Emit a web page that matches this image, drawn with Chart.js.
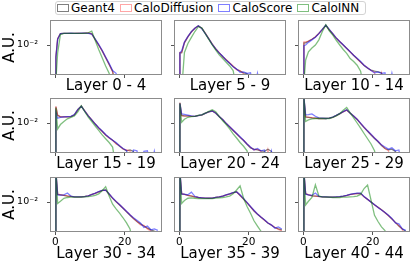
<!DOCTYPE html>
<html>
<head>
<meta charset="utf-8">
<script src="https://cdn.jsdelivr.net/npm/chart.js@4.4.1/dist/chart.umd.min.js"></script>
<style>
  html, body { margin: 0; padding: 0; background: #fff; }
  body { width: 415px; height: 266px; position: relative; overflow: hidden; font-family: 'DejaVu Sans', sans-serif; }
  canvas { position: absolute; }
  #legend { position: absolute; left: 55px; top: 1px; width: 308px; height: 12px; border: 1px solid #d3d3d3; border-radius: 3px;
            display: flex; align-items: center; padding-left: 1px; font-size: 12px; color: #000; }
  #legend .item { display: flex; align-items: center; margin-right: 5px; }
  #legend .box { width: 10px; height: 6px; border: 1px solid; margin-right: 2px; }
</style>
</head>
<body>
<div id="legend"></div>
<script>
// bin edges shared by all histograms (first bin is the narrow one at 0)
const binEdges = [0, 0.4, 1, 2, 3, 4, 5, 6, 7, 8, 9, 10, 11, 12, 13, 14, 15, 16, 17, 18, 19,
                  20, 21, 22, 23, 24, 25, 26, 27, 28, 29, 30];
const seriesNames = ['Geant4', 'CaloDiffusion', 'CaloScore', 'CaloINN'];
const layerTitles = ['Layer 0 - 4', 'Layer 5 - 9', 'Layer 10 - 14',
                     'Layer 15 - 19', 'Layer 20 - 24', 'Layer 25 - 29',
                     'Layer 30 - 34', 'Layer 35 - 39', 'Layer 40 - 44'];
const xTicks = [0, 20];
const yTicks = [0.01];
const yTickLabels = ['10⁻²'];

// Layer 0 - 4
const geant4_0_4 = [0.0016, 0.025, 0.058, 0.060, 0.060, 0.060, 0.060, 0.060, 0.060, 0.061, 0.061,
  0.056, 0.024, 0.010, 0.0040, 0.0014, 0.0005, 0.00018, 0, 0, 0,
  0, 0, 0, 0, 0, 0, 0, 0, 0, 0];
const caloDiffusion_0_4 = [0.0018, 0.026, 0.058, 0.060, 0.059, 0.060, 0.060, 0.061, 0.060, 0.062, 0.063,
  0.055, 0.023, 0.0098, 0.0042, 0.0015, 0.00052, 0.00016, 0, 0, 0,
  0, 0, 0, 0, 0, 0, 0, 0, 0, 0];
const caloScore_0_4 = [0.0015, 0.024, 0.057, 0.060, 0.060, 0.061, 0.060, 0.060, 0.061, 0.061, 0.060,
  0.054, 0.025, 0.011, 0.0045, 0.0016, 0.0006, 0.0002, 0.00013, 0, 0,
  0, 0, 0, 0, 0, 0, 0, 0, 0, 0];
const caloINN_0_4 = [0, 0.003, 0.050, 0.060, 0.060, 0.060, 0.060, 0.060, 0.060, 0.060, 0.065,
  0.085, 0.020, 0.005, 0.0014, 0.0004, 0.00013, 0, 0, 0, 0,
  0, 0, 0, 0, 0, 0, 0, 0, 0, 0];

// Layer 5 - 9
const geant4_5_9 = [0.003, 0.003, 0.014, 0.035, 0.076, 0.13, 0.19, 0.126, 0.060, 0.026, 0.011,
  0.0054, 0.003, 0.0017, 0.001, 0.0006, 0.00037, 0.00024, 0.00018, 0.00014, 0.000126,
  0, 0, 0, 0, 0, 0, 0, 0, 0, 0];
const caloDiffusion_5_9 = [0.0032, 0.0032, 0.015, 0.036, 0.074, 0.13, 0.185, 0.13, 0.062, 0.027, 0.012,
  0.0056, 0.0031, 0.0016, 0.0011, 0.00065, 0.0004, 0.00022, 0.0002, 0.00012, 0,
  0, 0, 0, 0, 0, 0, 0, 0, 0, 0];
const caloScore_5_9 = [0.003, 0.004, 0.016, 0.038, 0.078, 0.13, 0.19, 0.125, 0.058, 0.026, 0.011,
  0.0055, 0.0029, 0.0018, 0.00095, 0.0006, 0.00035, 0.00025, 0.00015, 0.00016, 0.00013,
  0.00014, 0, 0.00013, 0, 0, 0, 0, 0, 0, 0];
const caloINN_5_9 = [0, 0, 0.0032, 0.0126, 0.032, 0.079, 0.166, 0.14, 0.056, 0.024, 0.010,
  0.0045, 0.0022, 0.00126, 0.0007, 0.0004, 0.0002, 0, 0, 0, 0,
  0, 0, 0, 0, 0, 0, 0, 0, 0, 0];

// Layer 10 - 14
const geant4_10_14 = [0.014, 0.014, 0.0178, 0.024, 0.034, 0.060, 0.11, 0.21, 0.10, 0.054, 0.028,
  0.0166, 0.010, 0.0058, 0.0035, 0.002, 0.0012, 0.00074, 0.00043, 0.00028, 0.00021,
  0.00018, 0.00016, 0.00014, 0, 0, 0, 0, 0, 0, 0];
const caloDiffusion_10_14 = [0.016, 0.016, 0.018, 0.024, 0.035, 0.058, 0.105, 0.20, 0.105, 0.056, 0.029,
  0.017, 0.0098, 0.006, 0.0034, 0.0021, 0.0012, 0.0007, 0.00045, 0.0003, 0.0002,
  0.00015, 0, 0.00013, 0, 0, 0, 0, 0, 0, 0];
const caloScore_10_14 = [0.009, 0.010, 0.015, 0.022, 0.033, 0.057, 0.11, 0.21, 0.11, 0.057, 0.030,
  0.017, 0.0105, 0.006, 0.0036, 0.0021, 0.0013, 0.0008, 0.00045, 0.0003, 0.0002,
  0.00014, 0.00016, 0.00013, 0.00014, 0, 0.00013, 0, 0, 0, 0];
const caloINN_10_14 = [0, 0.001, 0.0035, 0.0063, 0.010, 0.022, 0.079, 0.22, 0.089, 0.045, 0.020,
  0.010, 0.005, 0.0028, 0.00126, 0.00079, 0.00045, 0.00018, 0, 0, 0,
  0, 0, 0, 0, 0, 0, 0, 0, 0, 0];

// Layer 15 - 19
const geant4_15_19 = [0.12, 0.032, 0.026, 0.026, 0.026, 0.027, 0.035, 0.079, 0.135, 0.063, 0.030,
  0.016, 0.0085, 0.0047, 0.0028, 0.0016, 0.00105, 0.0007, 0.00045, 0.00028, 0.00019,
  0.00014, 0.00016, 0.000126, 0, 0, 0, 0, 0, 0, 0];
const caloDiffusion_15_19 = [0.13, 0.033, 0.027, 0.026, 0.026, 0.027, 0.034, 0.075, 0.13, 0.065, 0.031,
  0.016, 0.0088, 0.0046, 0.0027, 0.0016, 0.001, 0.0007, 0.0004, 0.00032, 0.00018,
  0.00016, 0.00014, 0, 0, 0, 0, 0, 0, 0, 0];
const caloScore_15_19 = [0.05, 0.021, 0.024, 0.026, 0.027, 0.028, 0.036, 0.078, 0.13, 0.062, 0.030,
  0.016, 0.0085, 0.0048, 0.0029, 0.0017, 0.0011, 0.0007, 0.0005, 0.0003, 0.0002,
  0.00015, 0, 0.00016, 0.00014, 0, 0.00013, 0.00014, 0, 0.00013, 0];
const caloINN_15_19 = [0.10, 0.004, 0.0079, 0.0126, 0.019, 0.024, 0.030, 0.056, 0.14, 0.056, 0.025,
  0.0126, 0.0063, 0.0032, 0.0016, 0.00089, 0.0005, 0.00025, 0, 0, 0,
  0, 0, 0, 0, 0, 0, 0, 0, 0, 0];

// Layer 20 - 24
const geant4_20_24 = [0.22, 0.032, 0.030, 0.0295, 0.028, 0.028, 0.032, 0.035, 0.045, 0.056, 0.063,
  0.045, 0.026, 0.0166, 0.0091, 0.0055, 0.0032, 0.0019, 0.0011, 0.00068, 0.00038,
  0.00022, 0.00018, 0.00016, 0.00014, 0.00013, 0.00018, 0.00013, 0, 0, 0];
const caloDiffusion_20_24 = [0.22, 0.030, 0.029, 0.029, 0.028, 0.028, 0.031, 0.034, 0.044, 0.055, 0.064,
  0.046, 0.027, 0.017, 0.0095, 0.0056, 0.0033, 0.0019, 0.0011, 0.0007, 0.0004,
  0.00024, 0.00016, 0.00018, 0.00013, 0, 0.00016, 0, 0, 0, 0];
const caloScore_20_24 = [0.20, 0.040, 0.038, 0.034, 0.030, 0.028, 0.031, 0.035, 0.044, 0.056, 0.064,
  0.046, 0.027, 0.017, 0.0095, 0.0057, 0.0034, 0.002, 0.0012, 0.0007, 0.0004,
  0.00025, 0.00016, 0.0002, 0.00014, 0.00016, 0, 0.00013, 0, 0, 0];
const caloINN_20_24 = [0.20, 0.0112, 0.0178, 0.024, 0.027, 0.028, 0.032, 0.035, 0.045, 0.060, 0.076,
  0.056, 0.028, 0.014, 0.0079, 0.004, 0.0019, 0.001, 0.0005, 0.00028, 0.00014,
  0, 0, 0, 0, 0, 0, 0, 0, 0, 0];

// Layer 25 - 29
const geant4_25_29 = [0.5, 0.025, 0.024, 0.022, 0.021, 0.020, 0.020, 0.020, 0.021, 0.025, 0.032,
  0.042, 0.056, 0.074, 0.045, 0.028, 0.017, 0.0091, 0.0049, 0.0028, 0.0016,
  0.00093, 0.00056, 0.00032, 0.0002, 0.00016, 0.00018, 0.000126, 0, 0, 0];
const caloDiffusion_25_29 = [0.5, 0.027, 0.025, 0.023, 0.021, 0.020, 0.020, 0.020, 0.021, 0.024, 0.031,
  0.041, 0.055, 0.072, 0.046, 0.029, 0.018, 0.0095, 0.0052, 0.003, 0.0017,
  0.001, 0.0006, 0.00035, 0.0002, 0.00014, 0, 0, 0, 0, 0];
const caloScore_25_29 = [0.5, 0.035, 0.036, 0.040, 0.028, 0.022, 0.021, 0.020, 0.021, 0.025, 0.032,
  0.042, 0.057, 0.075, 0.047, 0.029, 0.018, 0.0098, 0.0053, 0.003, 0.0018,
  0.001, 0.0006, 0.00035, 0.00025, 0.00018, 0.00022, 0.00014, 0.00016, 0, 0];
const caloINN_25_29 = [0.5, 0.0126, 0.016, 0.019, 0.020, 0.020, 0.020, 0.020, 0.020, 0.024, 0.030,
  0.042, 0.070, 0.11, 0.048, 0.022, 0.010, 0.0046, 0.002, 0.00089, 0.0004,
  0.00014, 0, 0, 0, 0, 0, 0, 0, 0, 0];

// Layer 30 - 34
const geant4_30_34 = [1.0, 0.032, 0.030, 0.028, 0.025, 0.0234, 0.022, 0.0219, 0.022, 0.0234, 0.026,
  0.032, 0.038, 0.048, 0.060, 0.063, 0.033, 0.0174, 0.0105, 0.0063, 0.0038,
  0.0022, 0.0013, 0.00079, 0.0005, 0.00035, 0.00025, 0.00018, 0.00014, 0.000112, 0];
const caloDiffusion_30_34 = [1.0, 0.034, 0.031, 0.028, 0.026, 0.024, 0.022, 0.021, 0.022, 0.023, 0.026,
  0.031, 0.038, 0.047, 0.058, 0.062, 0.035, 0.018, 0.011, 0.0066, 0.004,
  0.0023, 0.0014, 0.0008, 0.0005, 0.0003, 0.00028, 0.00016, 0.00012, 0, 0];
const caloScore_30_34 = [1.0, 0.030, 0.029, 0.030, 0.040, 0.025, 0.022, 0.022, 0.022, 0.023, 0.026,
  0.031, 0.039, 0.050, 0.060, 0.062, 0.036, 0.019, 0.011, 0.0068, 0.004,
  0.0024, 0.0014, 0.0009, 0.0006, 0.0004, 0.0002, 0.00025, 0.00014, 0.00016, 0.00013];
const caloINN_30_34 = [1.0, 0.008, 0.0112, 0.0178, 0.020, 0.021, 0.021, 0.021, 0.021, 0.022, 0.023,
  0.025, 0.028, 0.035, 0.056, 0.105, 0.025, 0.0071, 0.0035, 0.0018, 0.00089,
  0.0004, 0.00016, 0, 0, 0, 0, 0, 0, 0, 0];

// Layer 35 - 39
const geant4_35_39 = [1.0, 0.035, 0.032, 0.028, 0.025, 0.022, 0.020, 0.019, 0.018, 0.0178, 0.018,
  0.020, 0.022, 0.025, 0.0295, 0.035, 0.042, 0.048, 0.027, 0.0155, 0.0087,
  0.0047, 0.0025, 0.0015, 0.00095, 0.00062, 0.0004, 0.00028, 0.0002, 0.00016, 0.00014];
const caloDiffusion_35_39 = [1.0, 0.036, 0.032, 0.028, 0.026, 0.022, 0.020, 0.019, 0.018, 0.0178, 0.018,
  0.020, 0.022, 0.025, 0.029, 0.034, 0.041, 0.047, 0.028, 0.016, 0.009,
  0.0048, 0.0026, 0.0016, 0.001, 0.0006, 0.0004, 0.0003, 0.0002, 0.00015, 0.00012];
const caloScore_35_39 = [1.0, 0.034, 0.033, 0.030, 0.045, 0.024, 0.020, 0.019, 0.018, 0.018, 0.018,
  0.020, 0.022, 0.025, 0.030, 0.035, 0.042, 0.047, 0.030, 0.017, 0.0095,
  0.005, 0.0028, 0.0016, 0.001, 0.00065, 0.0004, 0.0003, 0.00018, 0.00022, 0.00016];
const caloINN_35_39 = [1.0, 0.008, 0.0126, 0.0178, 0.019, 0.0178, 0.017, 0.0166, 0.0166, 0.0166, 0.017,
  0.018, 0.019, 0.020, 0.022, 0.025, 0.035, 0.063, 0.12, 0.0178, 0.005,
  0.0018, 0.00056, 0.00025, 0.000112, 0, 0, 0, 0, 0, 0];

// Layer 40 - 44
const geant4_40_44 = [1.0, 0.035, 0.030, 0.026, 0.025, 0.0234, 0.022, 0.0219, 0.0214, 0.0214, 0.0219,
  0.023, 0.025, 0.028, 0.032, 0.035, 0.037, 0.038, 0.022, 0.015, 0.010,
  0.0066, 0.0045, 0.003, 0.002, 0.00126, 0.00074, 0.00044, 0.00025, 0.00016, 0.000112];
const caloDiffusion_40_44 = [1.0, 0.036, 0.031, 0.027, 0.025, 0.023, 0.022, 0.021, 0.021, 0.021, 0.021,
  0.022, 0.024, 0.027, 0.031, 0.034, 0.036, 0.036, 0.022, 0.015, 0.0098,
  0.0064, 0.0044, 0.003, 0.0019, 0.0012, 0.00075, 0.00042, 0.00026, 0.00015, 0];
const caloScore_40_44 = [1.0, 0.033, 0.030, 0.028, 0.040, 0.024, 0.022, 0.022, 0.021, 0.021, 0.022,
  0.023, 0.025, 0.028, 0.032, 0.036, 0.039, 0.039, 0.023, 0.015, 0.0098,
  0.0066, 0.0043, 0.0029, 0.002, 0.0013, 0.0008, 0.0004, 0.00035, 0.00016, 0.00013];
const caloINN_40_44 = [1.0, 0.0063, 0.0112, 0.020, 0.14, 0.025, 0.022, 0.021, 0.021, 0.020, 0.020,
  0.020, 0.021, 0.021, 0.022, 0.023, 0.025, 0.032, 0.079, 0.135, 0.0135,
  0.0013, 0.0005, 0.00022, 0.000126, 0, 0, 0, 0, 0, 0];

const panelData = [
  [geant4_0_4, caloDiffusion_0_4, caloScore_0_4, caloINN_0_4],
  [geant4_5_9, caloDiffusion_5_9, caloScore_5_9, caloINN_5_9],
  [geant4_10_14, caloDiffusion_10_14, caloScore_10_14, caloINN_10_14],
  [geant4_15_19, caloDiffusion_15_19, caloScore_15_19, caloINN_15_19],
  [geant4_20_24, caloDiffusion_20_24, caloScore_20_24, caloINN_20_24],
  [geant4_25_29, caloDiffusion_25_29, caloScore_25_29, caloINN_25_29],
  [geant4_30_34, caloDiffusion_30_34, caloScore_30_34, caloINN_30_34],
  [geant4_35_39, caloDiffusion_35_39, caloScore_35_39, caloINN_35_39],
  [geant4_40_44, caloDiffusion_40_44, caloScore_40_44, caloINN_40_44]
];

const colors = ['rgba(0,0,0,0.5)', 'rgba(255,0,0,0.35)', 'rgba(0,0,255,0.5)', 'rgba(0,128,0,0.5)'];

// layout of the 3x3 grid (pixels)
const panelLeft = [50, 174, 298];
const panelTop = [20, 98, 177];
const panelW = 112, panelH = 55;
const yMin = 1e-4, yMax = 0.4642;
const yFloor = 1e-5; // empty bins are drawn below the axis

Chart.defaults.font.family = "'DejaVu Sans', sans-serif";
Chart.defaults.color = '#000';

// legend (html)
const legend = document.getElementById('legend');
seriesNames.forEach(function(name, i) {
  const item = document.createElement('div');
  item.className = 'item';
  item.innerHTML = '<span class="box" style="border-color:' + colors[i] + '"></span><span>' + name + '</span>';
  legend.appendChild(item);
});

// fine histograms look like a curve: one point per bin centre, starting on the floor at x = 0
function histPoints(values) {
  const pts = [{x: binEdges[0], y: yFloor}];
  values.forEach(function(v, i) {
    pts.push({x: (binEdges[i] + binEdges[i + 1]) / 2, y: v > 0 ? v : yFloor});
  });
  return pts;
}

const framePlugin = {
  id: 'frame',
  afterDraw(chart) {
    const a = chart.chartArea;
    const ctx = chart.ctx;
    ctx.save();
    ctx.strokeStyle = '#8c8c8c';
    ctx.lineWidth = 1;
    ctx.strokeRect(a.left + 0.5, a.top + 0.5, a.right - a.left - 1, a.bottom - a.top - 1);
    ctx.restore();
  }
};

function noPadding(scale) {
  scale.paddingTop = 0; scale.paddingBottom = 0;
  scale.paddingLeft = 0; scale.paddingRight = 0;
}

panelData.forEach(function(series, k) {
  const col = k % 3, row = Math.floor(k / 3);
  const yW = col === 0 ? 50 : 5;
  const xH = row === 2 ? 31 : 20;
  const canvas = document.createElement('canvas');
  canvas.width = yW + panelW + 2;
  canvas.height = panelH + xH;
  canvas.style.left = (panelLeft[col] - yW) + 'px';
  canvas.style.top = panelTop[row] + 'px';
  document.body.appendChild(canvas);

  new Chart(canvas, {
    type: 'line',
    data: {
      datasets: series.map(function(vals, i) {
        return {
          label: seriesNames[i],
          data: histPoints(vals),
          borderColor: colors[i],
          borderWidth: 1.3,
          pointRadius: 0,
          tension: 0,
          fill: false,
          order: 4 - i
        };
      })
    },
    options: {
      responsive: false,
      animation: false,
      layout: { padding: { left: 0, right: 2, top: 0, bottom: 0 } },
      plugins: { legend: { display: false }, tooltip: { enabled: false } },
      scales: {
        x: {
          type: 'linear',
          min: -1.5,
          max: 30.7,
          afterBuildTicks: function(axis) { axis.ticks = xTicks.map(function(v) { return {value: v}; }); },
          afterFit: function(scale) { scale.height = xH; noPadding(scale); },
          grid: { display: true, drawOnChartArea: false, drawTicks: true, tickLength: 3, color: '#555' },
          border: { display: false },
          ticks: { display: row === 2, padding: 1, font: { size: 10.5 }, maxRotation: 0,
                   callback: function(v) { return String(v); } },
          title: { display: true, text: layerTitles[k], font: { size: 15 }, padding: 0 }
        },
        y: {
          type: 'logarithmic',
          min: yMin,
          max: yMax,
          afterBuildTicks: function(axis) { axis.ticks = yTicks.map(function(v) { return {value: v}; }); },
          afterFit: function(scale) { scale.width = yW; noPadding(scale); },
          grid: { display: true, drawOnChartArea: false, drawTicks: true, tickLength: 3, color: '#555' },
          border: { display: false },
          ticks: { display: col === 0, padding: 9, font: { size: 9.5 },
                   callback: function(v, i) { return yTickLabels[i]; } },
          title: { display: col === 0, text: 'A.U.', font: { size: 15 }, padding: { top: 1.5, bottom: 0 } }
        }
      }
    },
    plugins: [framePlugin]
  });
});
</script>
</body>
</html>
